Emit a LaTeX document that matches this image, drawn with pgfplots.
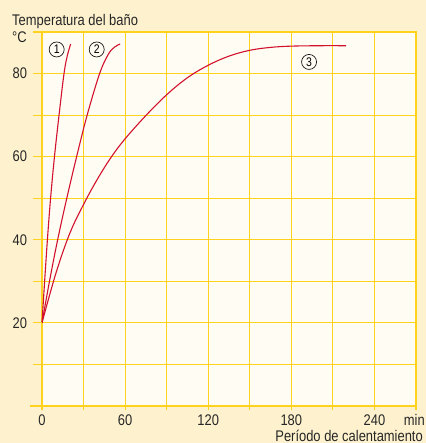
\documentclass[border=0pt]{standalone}
\usepackage{fontspec}
\setmainfont[FakeStretch=0.84]{Liberation Sans}
\usepackage{pgfplots}
\pgfplotsset{compat=1.18}
\definecolor{outerbg}{RGB}{254,242,206}
\definecolor{innerbg}{RGB}{255,252,244}
\definecolor{gridc}{RGB}{255,210,30}
\definecolor{curvec}{RGB}{210,18,45}
\begin{document}
\begin{tikzpicture}
\fill[outerbg] (-42bp,-37bp) rectangle (384bp,406bp);
\begin{axis}[
  at={(0,0)}, anchor=south west,
  scale only axis, width=374bp, height=374bp,
  xmin=0, xmax=270, ymin=0, ymax=90,
  clip=false,
  axis background/.style={fill=innerbg},
  axis line style={draw=gridc, line width=1.1bp},
  xtick={0,60,...,240}, minor xtick={30,90,...,270},
  ytick={20,40,60,80}, minor ytick={10,30,50,70,90},
  grid=both,
  major grid style={draw=gridc, line width=1.1bp},
  minor grid style={draw=gridc, line width=1.1bp},
  major tick length=0pt, minor tick length=0pt,
  tick align=inside,
  /pgf/number format/assume math mode=true,
  tick label style={font=\fontsize{15.4bp}{17bp}\selectfont, inner sep=0pt, text=black!85},
  yticklabel style={anchor=east, xshift=-14.7bp},
  xticklabel style={anchor=north, yshift=-8.3bp},
]
\addplot[curvec, line width=1.1bp, smooth, tension=0.6] coordinates {
  (0,20) (1.9,30) (3.9,40) (6.2,50) (9.0,60) (12.3,70) (15.9,80) (18.2,84.2) (20.7,87.1)
};
\addplot[curvec, line width=1.1bp, smooth, tension=0.6] coordinates {
  (0,20) (5.4,30) (11.3,40) (17.9,50) (25,60) (32.6,70) (41.6,80) (48,84.7) (52.5,86.4) (56.4,87.1)
};
\addplot[curvec, line width=1.1bp, smooth, tension=0.6] coordinates {
  (0,20) (10,31.9) (20,41.5) (30,48.5) (40,54.6) (50,59.9) (60,64.3) (75,69.9) (90,74.9) (105,79.0) (120,82.0) (135,84.2) (150,85.6) (165,86.3) (180,86.6) (200,86.7) (219.5,86.7)
};
\node[draw=black!90, line width=0.7bp, circle, minimum size=15bp, inner sep=0pt, font=\fontsize{12.5bp}{13bp}\selectfont] at (axis cs:10.6,85.8) {1};
\node[draw=black!90, line width=0.7bp, circle, minimum size=15bp, inner sep=0pt, font=\fontsize{12.5bp}{13bp}\selectfont] at (axis cs:39.5,85.8) {2};
\node[draw=black!90, line width=0.7bp, circle, minimum size=15bp, inner sep=0pt, font=\fontsize{12.5bp}{13bp}\selectfont] at (axis cs:192.8,82.8) {3};
\pgfplotsinvokeforeach{0,10,...,90}{
  \draw[gridc, line width=1.1bp] (axis cs:0,#1) -- ++(-9bp,0);
}
\pgfplotsinvokeforeach{0,30,...,270}{
  \draw[gridc, line width=1.1bp] (axis cs:#1,0) -- ++(0,-4bp);
}
\draw[gridc, line width=1.1bp] (axis cs:0,0) -- ++(-12bp,0);
\end{axis}
\node[anchor=base west, inner sep=0pt, font=\fontsize{15.4bp}{17bp}\selectfont, text=black!85] at (-30bp,380bp) {Temperatura del baño};
\node[anchor=base west, inner sep=0pt, font=\fontsize{15.4bp}{17bp}\selectfont, text=black!85] at (-30bp,363bp) {°C};
\node[anchor=base west, inner sep=0pt, font=\fontsize{15.4bp}{17bp}\selectfont, text=black!85] at (361.7bp,-19.7bp) {min};
\node[anchor=base east, inner sep=0pt, font=\fontsize{15.4bp}{17bp}\selectfont, text=black!85] at (381bp,-35bp) {Período de calentamiento};
\pgfresetboundingbox
\useasboundingbox (-42bp,-37bp) rectangle (384bp,406bp);
\end{tikzpicture}
\end{document}
